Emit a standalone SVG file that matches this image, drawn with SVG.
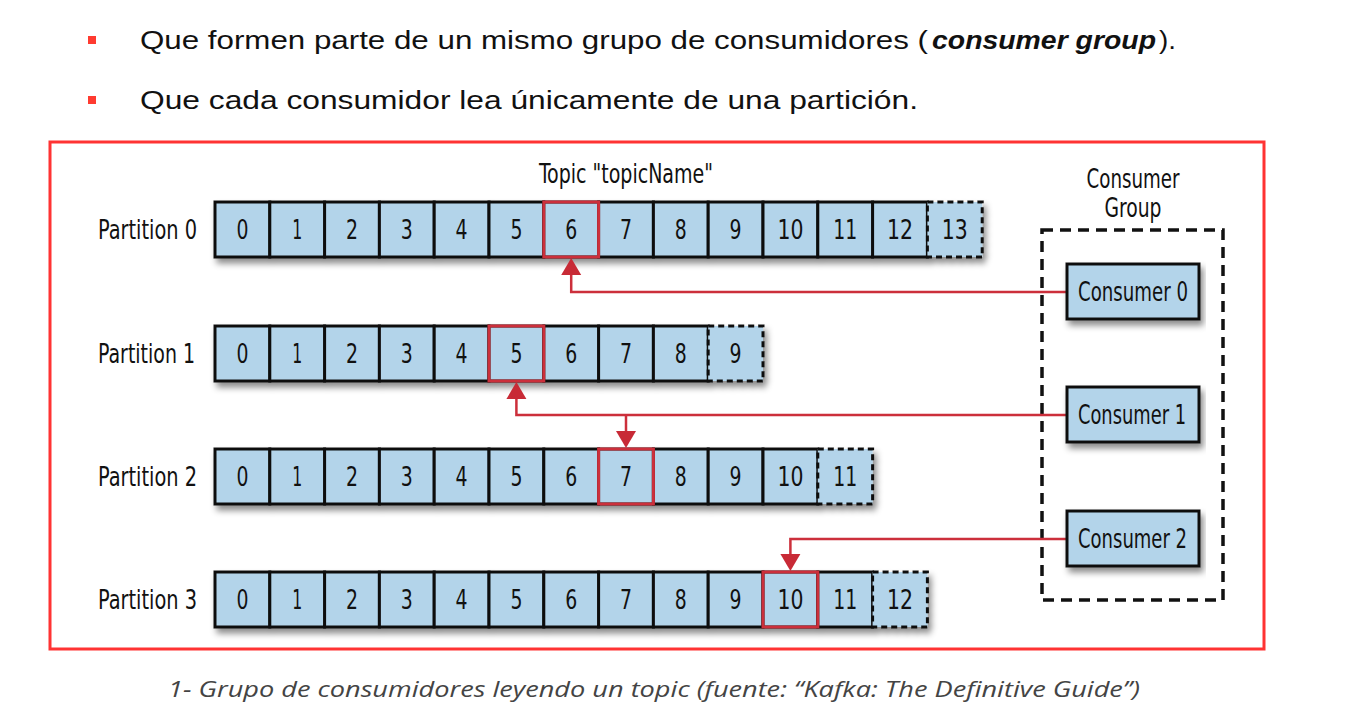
<svg xmlns="http://www.w3.org/2000/svg" width="1350" height="707" viewBox="0 0 1350 707">
<defs>
<style>
.bul{font-family:"Liberation Sans","DejaVu Sans",sans-serif;font-size:26px;fill:#111}
.lbl{font-family:"Liberation Sans Narrow","DejaVu Sans Condensed","Liberation Sans",sans-serif;font-size:27px;fill:#111;text-anchor:middle}
.plbl{font-family:"Liberation Sans Narrow","DejaVu Sans Condensed","Liberation Sans",sans-serif;font-size:27px;fill:#111}
.cell{fill:#b3d4ea;stroke:#111;stroke-width:3}
.dcell{fill:#b3d4ea;stroke:#111;stroke-width:3;stroke-dasharray:6 4}
.hl{fill:none;stroke:#cc2f3b;stroke-width:3}
.cons{fill:#b3d4ea;stroke:#111;stroke-width:3}
.conn{fill:none;stroke:#cc2f3b;stroke-width:2.5}
.ah{fill:#c82a36}
.cap{font-family:"Open Sans","Noto Sans",sans-serif;font-style:italic;font-size:22px;fill:#444}
</style>
<filter id="sh" x="-5%" y="-20%" width="110%" height="160%">
<feDropShadow dx="3" dy="5" stdDeviation="3" flood-color="#000" flood-opacity="0.45"/>
</filter>
<rect id="c" class="cell" width="54.8" height="55"/>
<rect id="d" class="dcell" width="54.8" height="55"/>
</defs>
<rect width="1350" height="707" fill="#fff"/>

<g id="bullets">
<rect x="88" y="36" width="8" height="8" fill="#ff3b30"/>
<rect x="88" y="96" width="8" height="8" fill="#ff3b30"/>
<text class="bul" x="140" y="49" textLength="788" lengthAdjust="spacingAndGlyphs">Que formen parte de un mismo grupo de consumidores (</text>
<text class="bul" x="932" y="49" font-weight="bold" font-style="italic" textLength="224" lengthAdjust="spacingAndGlyphs">consumer group</text>
<text class="bul" x="1159" y="49" textLength="17" lengthAdjust="spacingAndGlyphs">).</text>
<text class="bul" x="140" y="109" textLength="778" lengthAdjust="spacingAndGlyphs">Que cada consumidor lea únicamente de una partición.</text>
</g>

<rect id="frame" x="50" y="142" width="1214" height="507" fill="none" stroke="#ff3333" stroke-width="3"/>

<g id="topic-title">
<text class="lbl" x="626" y="183" textLength="174" lengthAdjust="spacingAndGlyphs">Topic "topicName"</text>
</g>

<g id="partition0">
<text class="plbl" x="98" y="239" textLength="99" lengthAdjust="spacingAndGlyphs">Partition 0</text>
<g filter="url(#sh)" transform="translate(0,202)">
<use href="#c" x="215"/><use href="#c" x="269.8"/><use href="#c" x="324.6"/><use href="#c" x="379.4"/><use href="#c" x="434.2"/><use href="#c" x="489"/><use href="#c" x="543.8"/><use href="#c" x="598.6"/><use href="#c" x="653.4"/><use href="#c" x="708.2"/><use href="#c" x="763"/><use href="#c" x="817.8"/><use href="#c" x="872.6"/><use href="#d" x="927.4"/>
</g>
<rect class="hl" x="543.8" y="202" width="54.8" height="55"/>
<g transform="translate(0,239)">
<text class="lbl" x="242.4" textLength="12" lengthAdjust="spacingAndGlyphs">0</text><text class="lbl" x="297.2" textLength="10" lengthAdjust="spacingAndGlyphs">1</text><text class="lbl" x="352" textLength="12" lengthAdjust="spacingAndGlyphs">2</text><text class="lbl" x="406.8" textLength="12" lengthAdjust="spacingAndGlyphs">3</text><text class="lbl" x="461.6" textLength="12" lengthAdjust="spacingAndGlyphs">4</text><text class="lbl" x="516.4" textLength="12" lengthAdjust="spacingAndGlyphs">5</text><text class="lbl" x="571.2" textLength="12" lengthAdjust="spacingAndGlyphs">6</text><text class="lbl" x="626" textLength="12" lengthAdjust="spacingAndGlyphs">7</text><text class="lbl" x="680.8" textLength="12" lengthAdjust="spacingAndGlyphs">8</text><text class="lbl" x="735.6" textLength="12" lengthAdjust="spacingAndGlyphs">9</text><text class="lbl" x="790.4" textLength="26" lengthAdjust="spacingAndGlyphs">10</text><text class="lbl" x="845.2" textLength="24" lengthAdjust="spacingAndGlyphs">11</text><text class="lbl" x="900" textLength="26" lengthAdjust="spacingAndGlyphs">12</text><text class="lbl" x="954.8" textLength="26" lengthAdjust="spacingAndGlyphs">13</text>
</g>
</g>

<g id="partition1">
<text class="plbl" x="98" y="363" textLength="97" lengthAdjust="spacingAndGlyphs">Partition 1</text>
<g filter="url(#sh)" transform="translate(0,326)">
<use href="#c" x="215"/><use href="#c" x="269.8"/><use href="#c" x="324.6"/><use href="#c" x="379.4"/><use href="#c" x="434.2"/><use href="#c" x="489"/><use href="#c" x="543.8"/><use href="#c" x="598.6"/><use href="#c" x="653.4"/><use href="#d" x="708.2"/>
</g>
<rect class="hl" x="489" y="326" width="54.8" height="55"/>
<g transform="translate(0,363)">
<text class="lbl" x="242.4" textLength="12" lengthAdjust="spacingAndGlyphs">0</text><text class="lbl" x="297.2" textLength="10" lengthAdjust="spacingAndGlyphs">1</text><text class="lbl" x="352" textLength="12" lengthAdjust="spacingAndGlyphs">2</text><text class="lbl" x="406.8" textLength="12" lengthAdjust="spacingAndGlyphs">3</text><text class="lbl" x="461.6" textLength="12" lengthAdjust="spacingAndGlyphs">4</text><text class="lbl" x="516.4" textLength="12" lengthAdjust="spacingAndGlyphs">5</text><text class="lbl" x="571.2" textLength="12" lengthAdjust="spacingAndGlyphs">6</text><text class="lbl" x="626" textLength="12" lengthAdjust="spacingAndGlyphs">7</text><text class="lbl" x="680.8" textLength="12" lengthAdjust="spacingAndGlyphs">8</text><text class="lbl" x="735.6" textLength="12" lengthAdjust="spacingAndGlyphs">9</text>
</g>
</g>

<g id="partition2">
<text class="plbl" x="98" y="486" textLength="99" lengthAdjust="spacingAndGlyphs">Partition 2</text>
<g filter="url(#sh)" transform="translate(0,449)">
<use href="#c" x="215"/><use href="#c" x="269.8"/><use href="#c" x="324.6"/><use href="#c" x="379.4"/><use href="#c" x="434.2"/><use href="#c" x="489"/><use href="#c" x="543.8"/><use href="#c" x="598.6"/><use href="#c" x="653.4"/><use href="#c" x="708.2"/><use href="#c" x="763"/><use href="#d" x="817.8"/>
</g>
<rect class="hl" x="598.6" y="449" width="54.8" height="55"/>
<g transform="translate(0,486)">
<text class="lbl" x="242.4" textLength="12" lengthAdjust="spacingAndGlyphs">0</text><text class="lbl" x="297.2" textLength="10" lengthAdjust="spacingAndGlyphs">1</text><text class="lbl" x="352" textLength="12" lengthAdjust="spacingAndGlyphs">2</text><text class="lbl" x="406.8" textLength="12" lengthAdjust="spacingAndGlyphs">3</text><text class="lbl" x="461.6" textLength="12" lengthAdjust="spacingAndGlyphs">4</text><text class="lbl" x="516.4" textLength="12" lengthAdjust="spacingAndGlyphs">5</text><text class="lbl" x="571.2" textLength="12" lengthAdjust="spacingAndGlyphs">6</text><text class="lbl" x="626" textLength="12" lengthAdjust="spacingAndGlyphs">7</text><text class="lbl" x="680.8" textLength="12" lengthAdjust="spacingAndGlyphs">8</text><text class="lbl" x="735.6" textLength="12" lengthAdjust="spacingAndGlyphs">9</text><text class="lbl" x="790.4" textLength="26" lengthAdjust="spacingAndGlyphs">10</text><text class="lbl" x="845.2" textLength="24" lengthAdjust="spacingAndGlyphs">11</text>
</g>
</g>

<g id="partition3">
<text class="plbl" x="98" y="609" textLength="99" lengthAdjust="spacingAndGlyphs">Partition 3</text>
<g filter="url(#sh)" transform="translate(0,572)">
<use href="#c" x="215"/><use href="#c" x="269.8"/><use href="#c" x="324.6"/><use href="#c" x="379.4"/><use href="#c" x="434.2"/><use href="#c" x="489"/><use href="#c" x="543.8"/><use href="#c" x="598.6"/><use href="#c" x="653.4"/><use href="#c" x="708.2"/><use href="#c" x="763"/><use href="#c" x="817.8"/><use href="#d" x="872.6"/>
</g>
<rect class="hl" x="763" y="572" width="54.8" height="55"/>
<g transform="translate(0,609)">
<text class="lbl" x="242.4" textLength="12" lengthAdjust="spacingAndGlyphs">0</text><text class="lbl" x="297.2" textLength="10" lengthAdjust="spacingAndGlyphs">1</text><text class="lbl" x="352" textLength="12" lengthAdjust="spacingAndGlyphs">2</text><text class="lbl" x="406.8" textLength="12" lengthAdjust="spacingAndGlyphs">3</text><text class="lbl" x="461.6" textLength="12" lengthAdjust="spacingAndGlyphs">4</text><text class="lbl" x="516.4" textLength="12" lengthAdjust="spacingAndGlyphs">5</text><text class="lbl" x="571.2" textLength="12" lengthAdjust="spacingAndGlyphs">6</text><text class="lbl" x="626" textLength="12" lengthAdjust="spacingAndGlyphs">7</text><text class="lbl" x="680.8" textLength="12" lengthAdjust="spacingAndGlyphs">8</text><text class="lbl" x="735.6" textLength="12" lengthAdjust="spacingAndGlyphs">9</text><text class="lbl" x="790.4" textLength="26" lengthAdjust="spacingAndGlyphs">10</text><text class="lbl" x="845.2" textLength="24" lengthAdjust="spacingAndGlyphs">11</text><text class="lbl" x="900" textLength="26" lengthAdjust="spacingAndGlyphs">12</text>
</g>
</g>

<g id="consumer-group">
<text class="lbl" x="1133" y="188" font-size="25" textLength="93" lengthAdjust="spacingAndGlyphs">Consumer</text>
<text class="lbl" x="1133" y="217" font-size="25" textLength="57" lengthAdjust="spacingAndGlyphs">Group</text>
<rect x="1042" y="230" width="181" height="370" fill="none" stroke="#111" stroke-width="3.5" stroke-dasharray="11 7"/>
</g>

<g id="connectors">
<polyline class="conn" points="1067,292 571.2,292 571.2,272"/>
<polygon class="ah" points="571.2,258 561.2,275 581.2,275"/>
<polyline class="conn" points="1067,415 516.4,415 516.4,396"/>
<polygon class="ah" points="516.4,382 506.4,399 526.4,399"/>
<polyline class="conn" points="626,415 626,434"/>
<polygon class="ah" points="626,448 616,431 636,431"/>
<polyline class="conn" points="1067,539 790.4,539 790.4,557"/>
<polygon class="ah" points="790.4,571 780.4,554 800.4,554"/>
</g>

<g id="consumer0">
<rect class="cons" x="1067" y="264" width="132" height="55" filter="url(#sh)"/>
<text class="lbl" x="1133" y="301" font-size="26" textLength="110" lengthAdjust="spacingAndGlyphs">Consumer 0</text>
</g>
<g id="consumer1">
<rect class="cons" x="1067" y="387" width="132" height="55" filter="url(#sh)"/>
<text class="lbl" x="1132" y="424" font-size="26" textLength="108" lengthAdjust="spacingAndGlyphs">Consumer 1</text>
</g>
<g id="consumer2">
<rect class="cons" x="1067" y="511" width="132" height="55" filter="url(#sh)"/>
<text class="lbl" x="1132.5" y="548" font-size="26" textLength="109" lengthAdjust="spacingAndGlyphs">Consumer 2</text>
</g>

<g id="caption">
<text class="cap" x="168" y="697" textLength="972" lengthAdjust="spacingAndGlyphs">1- Grupo de consumidores leyendo un topic (fuente: “Kafka: The Definitive Guide”)</text>
</g>
</svg>
